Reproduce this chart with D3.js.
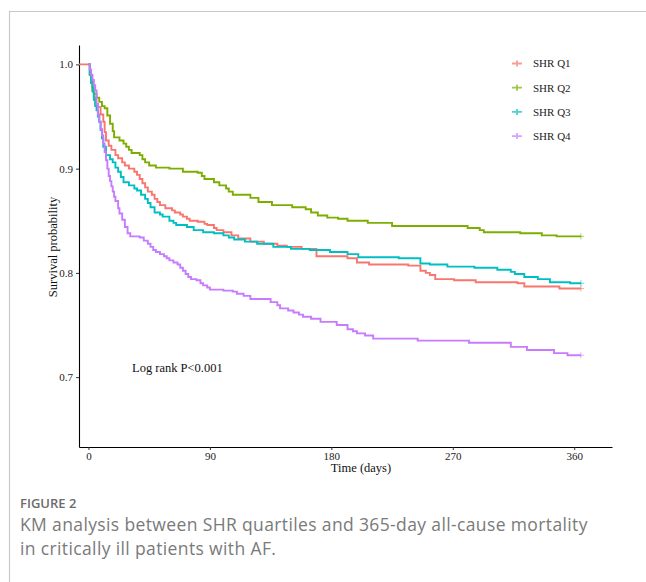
<!DOCTYPE html>
<html>
<head>
<meta charset="utf-8">
<script src="https://cdn.jsdelivr.net/npm/d3@7"></script>
<style>
  body { margin: 0; background: #fff; }
  #chart svg { display: block; }
</style>
</head>
<body>
<div id="chart"></div>
<script>
// survival curves, [day, probability] steps
const q1 = [[-7,1],[0,1],[1,0.99],[2,0.982],[3,0.975],[4,0.968],[5,0.962],[7,0.959],[9,0.952],[11,0.945],[12,0.935],[13,0.927],[15,0.922],[17,0.918],[20,0.913],[22,0.910],[25,0.906],[27,0.903],[30,0.900],[34,0.897],[36,0.894],[38,0.890],[40,0.886],[42,0.882],[44,0.878],[47,0.875],[49,0.871],[51,0.868],[53,0.865],[57,0.862],[62,0.860],[64,0.858],[68,0.856],[70,0.854],[73,0.852],[75,0.850],[81,0.849],[86,0.847],[88,0.846],[93,0.843],[95,0.841],[100,0.839],[106,0.836],[111,0.833],[120,0.830],[130,0.828],[140,0.826],[147,0.825],[158,0.823],[169,0.816],[192,0.814],[199,0.810],[208,0.808],[237,0.807],[246,0.802],[250,0.800],[253,0.798],[257,0.794],[271,0.793],[287,0.791],[318,0.790],[323,0.787],[349,0.785],[365,0.785]];
const q2 = [[0,1],[1,0.99],[2,0.985],[3,0.978],[4,0.972],[6,0.968],[8,0.964],[10,0.960],[12,0.958],[14,0.951],[16,0.943],[18,0.936],[19,0.930],[23,0.927],[26,0.924],[28,0.921],[30,0.918],[32,0.915],[38,0.913],[40,0.909],[42,0.906],[45,0.903],[50,0.901],[60,0.900],[70,0.897],[81,0.896],[84,0.893],[86,0.890],[93,0.887],[97,0.884],[102,0.881],[104,0.878],[107,0.875],[120,0.872],[126,0.868],[136,0.865],[151,0.863],[161,0.861],[165,0.858],[170,0.855],[177,0.853],[185,0.852],[192,0.850],[207,0.848],[225,0.845],[281,0.843],[290,0.841],[293,0.839],[320,0.838],[336,0.836],[347,0.835],[365,0.835]];
const q3 = [[0,1],[1,0.99],[2,0.982],[3,0.974],[4,0.966],[5,0.960],[6,0.956],[7,0.950],[8,0.945],[9,0.937],[10,0.929],[11,0.921],[13,0.913],[16,0.909],[18,0.906],[20,0.901],[22,0.897],[24,0.892],[26,0.887],[30,0.884],[34,0.881],[36,0.879],[39,0.875],[42,0.871],[44,0.867],[46,0.863],[49,0.858],[53,0.856],[55,0.854],[60,0.850],[63,0.848],[65,0.846],[73,0.844],[78,0.841],[85,0.839],[93,0.838],[100,0.836],[104,0.834],[108,0.832],[116,0.830],[125,0.828],[137,0.825],[150,0.823],[164,0.822],[179,0.820],[192,0.818],[200,0.815],[230,0.814],[246,0.809],[253,0.808],[266,0.806],[286,0.805],[303,0.803],[313,0.801],[316,0.799],[323,0.796],[333,0.794],[342,0.791],[357,0.790],[365,0.790]];
const q4 = [[0,1],[1,0.995],[2,0.99],[3,0.985],[4,0.98],[5,0.975],[6,0.962],[7,0.952],[8,0.945],[9,0.938],[10,0.932],[11,0.924],[12,0.916],[13,0.908],[14,0.900],[15,0.893],[16,0.888],[17,0.883],[18,0.878],[19,0.873],[20,0.869],[22,0.862],[23,0.857],[25,0.851],[27,0.844],[29,0.838],[31,0.835],[38,0.834],[41,0.831],[44,0.828],[46,0.825],[48,0.822],[50,0.820],[53,0.818],[56,0.816],[58,0.814],[60,0.812],[63,0.810],[66,0.808],[68,0.805],[70,0.802],[72,0.799],[74,0.796],[76,0.794],[80,0.793],[83,0.790],[85,0.788],[88,0.786],[90,0.784],[100,0.783],[107,0.782],[110,0.780],[115,0.778],[120,0.775],[135,0.772],[140,0.769],[142,0.766],[148,0.764],[152,0.762],[156,0.760],[159,0.758],[165,0.756],[172,0.753],[184,0.750],[192,0.746],[196,0.744],[199,0.742],[205,0.740],[211,0.737],[244,0.735],[282,0.733],[313,0.729],[325,0.726],[345,0.723],[355,0.721],[365,0.721]];

const groups = ["SHR Q1", "SHR Q2", "SHR Q3", "SHR Q4"];
const colors = ["#F8766D", "#7CAE00", "#00BFC4", "#C77CFF"];
const xTicks = [0, 90, 180, 270, 360];
const yTicks = [0.7, 0.8, 0.9, 1.0];
const curves = [q1, q2, q3, q4];

const W = 646, H = 582;

const svg = d3.select("#chart")
  .append("svg")
  .attr("width", W)
  .attr("height", H);

// figure frame (top + left rule)
svg.append("path")
  .attr("d", "M9.5,582V11.5H646")
  .attr("fill", "none")
  .attr("stroke", "#c8c8c8")
  .attr("stroke-width", 1.2);

const x = d3.scaleLinear().domain([-7, 388]).range([79, 612]);
const y = d3.scaleLinear().domain([0.633, 1.0186]).range([447, 45]);

const serif = "'Liberation Serif', 'Times New Roman', serif";

const xAxis = svg.append("g")
  .attr("transform", "translate(0,447)")
  .call(d3.axisBottom(x).tickValues(xTicks).tickSize(3).tickSizeOuter(0).tickFormat(d3.format("d")));
const yAxis = svg.append("g")
  .attr("transform", "translate(79,0)")
  .call(d3.axisLeft(y).tickValues(yTicks).tickSize(3).tickSizeOuter(0).tickFormat(d3.format(".1f")));

[xAxis, yAxis].forEach(g => {
  g.select(".domain").attr("stroke", "#000").attr("stroke-width", 1.1);
  g.selectAll(".tick line").attr("stroke", "#333");
  g.selectAll(".tick text")
    .attr("fill", "#222")
    .style("font-family", serif)
    .style("font-size", "11px");
});
xAxis.selectAll(".tick text").attr("y", 5).attr("dy", "0.71em");

svg.append("text")
  .attr("x", 361).attr("y", 472)
  .attr("text-anchor", "middle")
  .style("font-family", serif).style("font-size", "12.5px")
  .attr("fill", "#111")
  .text("Time (days)");

svg.append("text")
  .attr("transform", "translate(57,247) rotate(-90)")
  .attr("text-anchor", "middle")
  .style("font-family", serif).style("font-size", "12.5px")
  .attr("fill", "#111")
  .text("Survival probability");

const line = d3.line()
  .x(d => x(d[0]))
  .y(d => y(d[1]))
  .curve(d3.curveStepAfter);

svg.append("g")
  .selectAll("path")
  .data(curves)
  .join("path")
  .attr("d", line)
  .attr("fill", "none")
  .attr("stroke", (d, i) => colors[i])
  .attr("stroke-width", 1.9);

// censor marks at the last time point
svg.append("g")
  .selectAll("path")
  .data(curves)
  .join("path")
  .attr("d", d => {
    const p = d[d.length - 1];
    const cx = x(p[0]), cy = y(p[1]);
    return `M${cx-3},${cy}H${cx+3}M${cx},${cy-3}V${cy+3}`;
  })
  .attr("stroke", (d, i) => colors[i])
  .attr("stroke-width", 1)
  .attr("opacity", 0.6);

// legend
const legend = svg.append("g")
  .selectAll("g")
  .data(groups)
  .join("g")
  .attr("transform", (d, i) => `translate(512,${63.5 + i * 24.2})`);
legend.append("path")
  .attr("d", "M0,0H10M5,-3V3")
  .attr("stroke", (d, i) => colors[i])
  .attr("stroke-width", 1.8)
  .attr("opacity", 0.7);
legend.append("text")
  .attr("x", 21).attr("dy", "0.35em")
  .style("font-family", serif).style("font-size", "11px")
  .attr("fill", "#222")
  .text(d => d);

svg.append("text")
  .attr("x", 132).attr("y", 372)
  .style("font-family", serif).style("font-size", "12.5px")
  .attr("fill", "#111")
  .text("Log rank P<0.001");

// caption
const sans = "'Open Sans', 'Noto Sans', sans-serif";
svg.append("text")
  .attr("x", 20).attr("y", 508)
  .style("font-family", sans).style("font-size", "13px").style("font-weight", 600)
  .attr("fill", "#6b6b6b")
  .text("FIGURE 2");
svg.append("text")
  .attr("x", 20).attr("y", 531)
  .style("font-family", sans).style("font-size", "17.5px")
  .style("letter-spacing", "0.37px")
  .attr("fill", "#7a7a7a")
  .text("KM analysis between SHR quartiles and 365-day all-cause mortality");
svg.append("text")
  .attr("x", 20).attr("y", 555)
  .style("font-family", sans).style("font-size", "17.5px")
  .style("letter-spacing", "0.37px")
  .attr("fill", "#7a7a7a")
  .text("in critically ill patients with AF.");
</script>
</body>
</html>
